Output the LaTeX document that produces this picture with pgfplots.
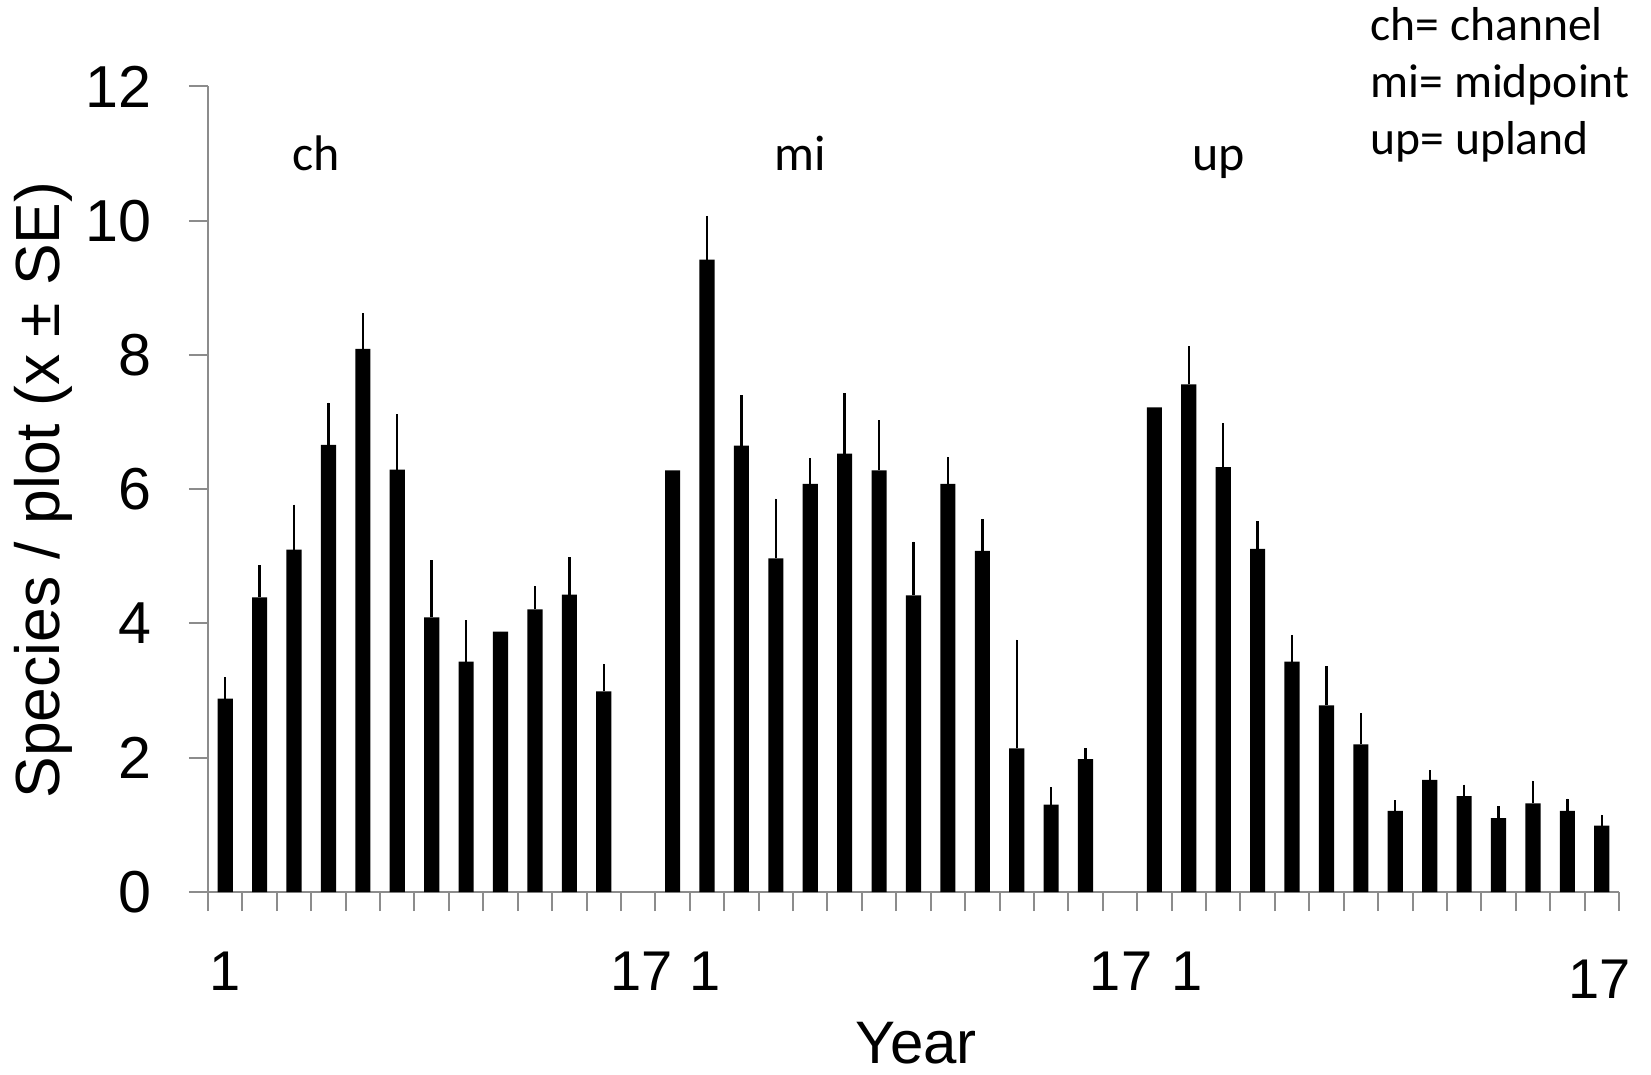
\documentclass[border=0pt]{standalone}
\usepackage{pgfplots}
\pgfplotsset{compat=1.18}
\usepackage{pgfplotstable}
\usepackage{fontspec}
\setmainfont{Liberation Sans}
\newfontfamily\calfont{Carlito}
\definecolor{axgray}{HTML}{8C8C8C}

\pgfplotstableread{
x y e
0 2.88 0.32
1 4.39 0.48
2 5.10 0.67
3 6.66 0.63
4 8.09 0.53
5 6.29 0.83
6 4.09 0.85
7 3.43 0.62
8 3.88 0
9 4.21 0.35
10 4.43 0.56
11 2.99 0.41
}\chdata
\pgfplotstableread{
x y e
13 6.28 0
14 9.42 0.65
15 6.65 0.75
16 4.97 0.89
17 6.08 0.38
18 6.53 0.90
19 6.28 0.75
20 4.42 0.80
21 6.08 0.40
22 5.08 0.47
23 2.14 1.62
24 1.30 0.26
25 1.98 0.16
}\midata
\pgfplotstableread{
x y e
27 7.22 0
28 7.56 0.57
29 6.33 0.65
30 5.11 0.41
31 3.43 0.40
32 2.78 0.58
33 2.20 0.46
34 1.21 0.16
35 1.67 0.15
36 1.43 0.17
37 1.10 0.18
38 1.32 0.34
39 1.21 0.18
40 0.99 0.16
}\updata

\begin{document}
\begin{tikzpicture}
\path[use as bounding box] (0,0) rectangle (412.75pt,268.5pt);
\begin{axis}[
  at={(52pt,45.5pt)}, anchor=south west,
  scale only axis, width=352.75pt, height=201.4pt,
  xmin=-0.5, xmax=40.5, ymin=0, ymax=12,
  axis x line*=bottom, axis y line*=left,
  axis line style={axgray, line width=0.5pt},
  ytick={0,2,...,12},
  xtick={-0.5,0.5,...,40.5}, xticklabels={},
  tick align=outside, major tick length=4.75pt,
  tick style={axgray, line width=0.5pt},
  /pgf/number format/assume math mode=true,
  yticklabel style={font=\fontsize{14.8}{14.8}\selectfont, anchor=east, xshift=-5.8pt},
  clip=false,
  ybar, bar width=0.44,
]
\addplot[ybar, fill=black, draw=none, bar shift=0pt,
  error bars/.cd, y dir=plus, y explicit, error mark=none,
  error bar style={line width=0.6pt, black}]
  table[x=x, y=y, y error=e] {\chdata};
\addplot[ybar, fill=black, draw=none, bar shift=0pt,
  error bars/.cd, y dir=plus, y explicit, error mark=none,
  error bar style={line width=0.6pt, black}]
  table[x=x, y=y, y error=e] {\midata};
\addplot[ybar, fill=black, draw=none, bar shift=0pt,
  error bars/.cd, y dir=plus, y explicit, error mark=none,
  error bar style={line width=0.6pt, black}]
  table[x=x, y=y, y error=e] {\updata};

% group labels
\node[anchor=base, font=\calfont\fontsize{12.5}{12.5}\selectfont] at (axis cs:2.64,10.75) {ch};
\node[anchor=base, font=\calfont\fontsize{12.5}{12.5}\selectfont] at (axis cs:16.7,10.75) {mi};
\node[anchor=base, font=\calfont\fontsize{12.5}{12.5}\selectfont] at (axis cs:28.87,10.75) {up};
% key
\node[anchor=base west, inner sep=0pt, font=\calfont\fontsize{11.9}{11.9}\selectfont] at (axis cs:33.26,12.69) {ch= channel};
\node[anchor=base west, inner sep=0pt, font=\calfont\fontsize{11.9}{11.9}\selectfont] at (axis cs:33.26,11.83) {mi= midpoint};
\node[anchor=base west, inner sep=0pt, font=\calfont\fontsize{11.9}{11.9}\selectfont] at (axis cs:33.26,10.98) {up= upland};
% x tick labels
\node[anchor=base, inner sep=0pt, font=\fontsize{14}{14}\selectfont] at (axis cs:0,-1.46) {1};
\node[anchor=base, inner sep=0pt, font=\fontsize{14}{14}\selectfont] at (axis cs:12.1,-1.46) {17};
\node[anchor=base, inner sep=0pt, font=\fontsize{14}{14}\selectfont] at (axis cs:13.94,-1.46) {1};
\node[anchor=base, inner sep=0pt, font=\fontsize{14}{14}\selectfont] at (axis cs:26.03,-1.46) {17};
\node[anchor=base, inner sep=0pt, font=\fontsize{14}{14}\selectfont] at (axis cs:27.94,-1.46) {1};
\node[anchor=base, inner sep=0pt, font=\fontsize{14}{14}\selectfont] at (axis cs:39.94,-1.58) {17};
% axis titles
\node[anchor=base, inner sep=0pt, font=\fontsize{15}{15}\selectfont] at (axis cs:20.08,-2.56) {Year};
\node[rotate=90, anchor=center, inner sep=0pt, font=\fontsize{15.6}{15.6}\selectfont] at (rel axis cs:-0.117,0.499) {Species / plot (x ± SE)};
\end{axis}
\end{tikzpicture}
\end{document}
